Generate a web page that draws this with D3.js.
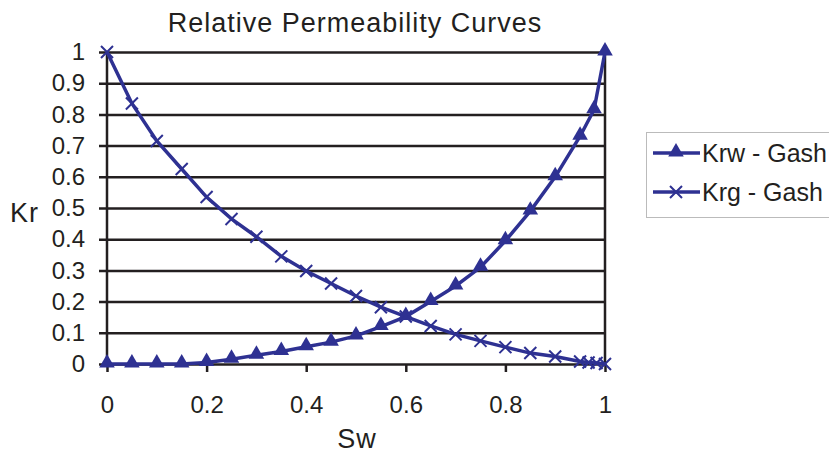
<!DOCTYPE html>
<html>
<head>
<meta charset="utf-8">
<script src="https://d3js.org/d3.v7.min.js"></script>
<style>
  body { margin: 0; background: #fff; font-family: 'Liberation Sans', Arial, sans-serif; }
</style>
</head>
<body>
<svg id="chart" width="829" height="457"></svg>
<script>
// Relative permeability data
const swKrw = [0, 0.05, 0.1, 0.15, 0.2, 0.25, 0.3, 0.35, 0.4, 0.45, 0.5, 0.55, 0.6, 0.65, 0.7, 0.75, 0.8, 0.85, 0.9, 0.95, 0.978, 1];
const krw   = [0, 0, 0, 0, 0.005, 0.015, 0.028, 0.04, 0.055, 0.07, 0.09, 0.12, 0.152, 0.2, 0.25, 0.31, 0.395, 0.49, 0.6, 0.73, 0.815, 1];
const swKrg = [0, 0.05, 0.1, 0.15, 0.2, 0.25, 0.3, 0.35, 0.4, 0.45, 0.5, 0.55, 0.6, 0.65, 0.7, 0.75, 0.8, 0.85, 0.9, 0.95, 0.967, 0.983, 1];
const krg   = [1, 0.835, 0.715, 0.625, 0.535, 0.465, 0.408, 0.345, 0.298, 0.258, 0.218, 0.182, 0.152, 0.122, 0.095, 0.074, 0.054, 0.035, 0.024, 0.008, 0.005, 0.003, 0];
const xTicks = [0, 0.2, 0.4, 0.6, 0.8, 1];
const yTicks = [0, 0.1, 0.2, 0.3, 0.4, 0.5, 0.6, 0.7, 0.8, 0.9, 1];
const seriesNames = ["Krw - Gash", "Krg - Gash"];

const blue = "#2e3192";
const dark = "#231f20";
const font = "'Liberation Sans', Arial, sans-serif";

const svg = d3.select("#chart");
const margin = { left: 107, right: 605, top: 52, bottom: 364 };

const x = d3.scaleLinear().domain([0, 1]).range([margin.left, margin.right]);
const y = d3.scaleLinear().domain([0, 1]).range([margin.bottom, margin.top]);

// gridlines + y axis
const yAxis = svg.append("g")
  .attr("transform", `translate(${margin.left},0)`)
  .call(d3.axisLeft(y).tickValues(yTicks)
    .tickSize(-(margin.right - margin.left))
    .tickSizeOuter(0)
    .tickPadding(22)
    .tickFormat(d => d3.format("")(d)));
yAxis.select(".domain").remove();
yAxis.selectAll(".tick line")
  .attr("x1", -8)
  .attr("stroke", dark)
  .attr("stroke-width", 2.5);
yAxis.selectAll(".tick text")
  .attr("font-family", font).attr("font-size", 24).attr("fill", dark);

// x axis
const xAxis = svg.append("g")
  .attr("transform", `translate(0,${margin.bottom})`)
  .call(d3.axisBottom(x).tickValues(xTicks).tickSize(8).tickSizeOuter(0).tickPadding(24)
    .tickFormat(d => d3.format("")(d)));
xAxis.select(".domain").remove();
xAxis.selectAll(".tick line").attr("stroke", dark).attr("stroke-width", 2.5);
xAxis.selectAll(".tick text")
  .attr("font-family", font).attr("font-size", 24).attr("fill", dark);

// left axis and right border
[margin.left, margin.right].forEach(px => {
  svg.append("line")
    .attr("x1", px).attr("x2", px)
    .attr("y1", margin.top).attr("y2", margin.bottom)
    .attr("stroke", dark).attr("stroke-width", 2.5);
});

// curves
const line = d3.line().x(d => x(d[0])).y(d => y(d[1]));
const krwPts = swKrw.map((s, i) => [s, krw[i]]);
const krgPts = swKrg.map((s, i) => [s, krg[i]]);

svg.append("path").datum(krgPts)
  .attr("d", line).attr("fill", "none")
  .attr("stroke", blue).attr("stroke-width", 3.5);
svg.append("path").datum(krwPts)
  .attr("d", line).attr("fill", "none")
  .attr("stroke", blue).attr("stroke-width", 3.5);

const tri = d3.symbol().type(d3.symbolTriangle).size(105);
const cross = "M-6,-6L6,6M-6,6L6,-6";

svg.selectAll(".krw").data(krwPts).enter().append("path")
  .attr("class", "krw")
  .attr("transform", d => `translate(${x(d[0])},${y(d[1]) - 1})`)
  .attr("d", tri).attr("fill", blue);

svg.selectAll(".krg").data(krgPts).enter().append("path")
  .attr("class", "krg")
  .attr("transform", d => `translate(${x(d[0])},${y(d[1])})`)
  .attr("d", cross).attr("stroke", blue).attr("stroke-width", 2).attr("fill", "none");

// title and axis labels
svg.append("text").attr("x", 355).attr("y", 32)
  .attr("text-anchor", "middle").attr("font-family", font).attr("font-size", 27)
  .attr("letter-spacing", 1).attr("fill", dark)
  .text("Relative Permeability Curves");
svg.append("text").attr("x", 357).attr("y", 448)
  .attr("text-anchor", "middle").attr("font-family", font).attr("font-size", 27)
  .attr("letter-spacing", 1).attr("fill", dark)
  .text("Sw");
svg.append("text").attr("x", 10).attr("y", 222)
  .attr("font-family", font).attr("font-size", 27).attr("letter-spacing", 1).attr("fill", dark)
  .text("Kr");

// legend
const legend = svg.append("g");
legend.append("rect")
  .attr("x", 646.5).attr("y", 132.5).attr("width", 190).attr("height", 85)
  .attr("fill", "none").attr("stroke", "#bbb").attr("stroke-width", 1);
seriesNames.forEach((name, i) => {
  const ly = 153 + i * 39;
  legend.append("line")
    .attr("x1", 653).attr("x2", 700).attr("y1", ly).attr("y2", ly)
    .attr("stroke", blue).attr("stroke-width", 3.5);
  if (i === 0) {
    legend.append("path").attr("transform", `translate(676,${ly - 1})`)
      .attr("d", tri).attr("fill", blue);
  } else {
    legend.append("path").attr("transform", `translate(676,${ly})`)
      .attr("d", cross).attr("stroke", blue).attr("stroke-width", 2);
  }
  legend.append("text").attr("x", 702).attr("y", ly + 9)
    .attr("font-family", font).attr("font-size", 25).attr("fill", dark).text(name);
});
</script>
</body>
</html>
